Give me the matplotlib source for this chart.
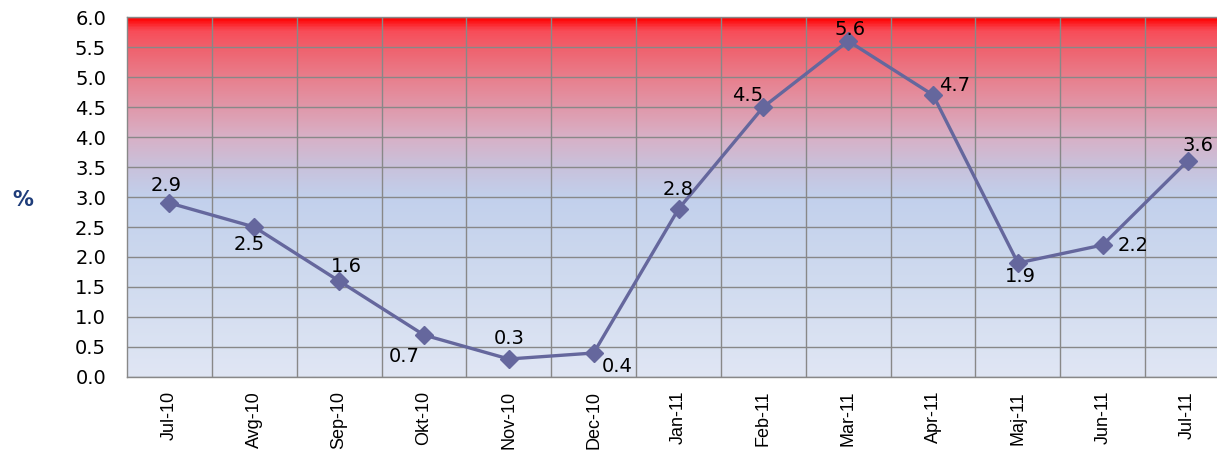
import matplotlib
matplotlib.use("Agg")
import matplotlib.pyplot as plt
import numpy as np
from matplotlib.colors import LinearSegmentedColormap

months = ["Jul-10", "Avg-10", "Sep-10", "Okt-10", "Nov-10", "Dec-10", "Jan-11",
          "Feb-11", "Mar-11", "Apr-11", "Maj-11", "Jun-11", "Jul-11"]
values = [2.9, 2.5, 1.6, 0.7, 0.3, 0.4, 2.8, 4.5, 5.6, 4.7, 1.9, 2.2, 3.6]

# label offsets in pixels (dx right, dy up) per data point
offsets_px = [(-3, 18), (-5, -17), (7, 15), (-20, -22), (0, 20), (24, -13), (0, 20),
              (-16, 12), (2, 12), (22, 10), (2, -14), (30, 0), (10, 16)]

fig = plt.figure(figsize=(12.17, 4.53), dpi=100)
ax = fig.add_axes([127 / 1217, 76 / 453, 1103 / 1217, 360 / 453])

# background gradient: bottom -> top
grad = LinearSegmentedColormap.from_list("bg", [
    (0.0, "#e0e6f4"),
    (0.33, "#ccd8ee"),
    (0.5, "#c2d0ec"),
    (0.58, "#c8c2dc"),
    (0.67, "#d8b0c6"),
    (0.75, "#e098aa"),
    (0.83, "#e8808e"),
    (0.92, "#f0606c"),
    (0.965, "#f84c58"),
    (1.0, "#ff0000"),
])
g = np.linspace(0, 1, 400).reshape(-1, 1)
ax.imshow(g, aspect="auto", cmap=grad, origin="lower",
          extent=[-0.5, len(months) - 0.5, 0, 6], zorder=0)

x = np.arange(len(months))
ax.plot(x, values, color="#65679d", lw=2.4, marker="D", ms=9.5, zorder=3)

for xi, v, off in zip(x, values, offsets_px):
    ax.annotate(f"{v:.1f}", (xi, v), xytext=(off[0] * 0.72, off[1] * 0.72),
                textcoords="offset points", ha="center", va="center",
                fontsize=14, color="black", family="DejaVu Sans", zorder=4)

ax.set_xlim(-0.5, len(months) - 0.5)
ax.set_ylim(0, 6)
ax.set_yticks(np.arange(0, 6.01, 0.5))
ax.set_yticklabels([f"{t:.1f}" for t in np.arange(0, 6.01, 0.5)],
                   fontsize=14, family="DejaVu Sans")
ax.set_xticks(x)
ax.set_xticklabels(months, rotation=90, fontsize=13, family="Liberation Sans")
ax.set_xticks(np.arange(0.5, len(months) - 0.5, 1), minor=True)
ax.tick_params(axis="both", which="both", length=0)
ax.tick_params(axis="y", pad=15)
ax.tick_params(axis="x", pad=10)

ax.grid(True, axis="y", which="major", color="#888888", lw=1, zorder=1)
ax.grid(True, axis="x", which="minor", color="#888888", lw=1, zorder=1)
ax.grid(False, axis="x", which="major")
ax.set_axisbelow(False)
for s in ax.spines.values():
    s.set_color("#888888")
    s.set_linewidth(1)

fig.text(23 / 1217, 1 - 200 / 453, "%", fontsize=15, fontweight="bold",
         color="#1f3d7a", ha="center", va="center", family="DejaVu Sans")

fig.savefig("out.png", dpi=100)
